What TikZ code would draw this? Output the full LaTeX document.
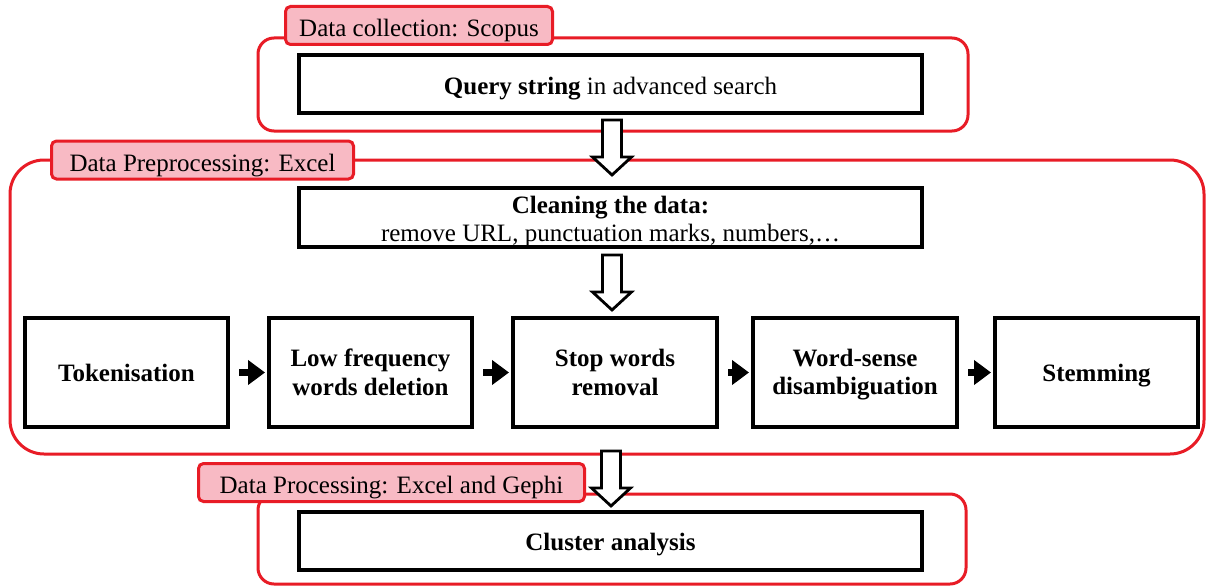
\documentclass[tikz,border=0pt]{standalone}
\usepackage{fontspec}
\setmainfont{Liberation Serif}
\usetikzlibrary{arrows.meta}
\definecolor{grpred}{RGB}{232,28,38}
\definecolor{lblpink}{RGB}{248,186,196}
\tikzset{
  grpbox/.style={draw=grpred, line width=3pt, rounded corners=#1, inner sep=0pt},
  lbl/.style={draw=grpred, line width=3pt, fill=lblpink, rounded corners=5pt, inner sep=0pt, minimum height=38pt, font=\fontsize{25}{29}\selectfont, text depth=0pt, text height=22pt},
  stepbox/.style={draw=black, line width=4pt, inner sep=0pt, align=center, font=\fontsize{25}{29}\selectfont},
  rowbox/.style={stepbox, font=\bfseries\fontsize{25}{29}\selectfont},
  hollow/.style={draw=black, line width=2.8pt, fill=white, line join=miter},
  sarrow/.style={line width=7.5pt, -{Triangle[length=17pt,width=24pt]}},
}
\begin{document}
\begin{tikzpicture}[x=1pt,y=-1pt]
\useasboundingbox[fill=white] (0,0) rectangle (1206,586);
% groups
\node[grpbox=16pt, minimum width=710pt, minimum height=93pt] (g1) at (613,84.5) {};
\node[grpbox=34pt, minimum width=1194pt, minimum height=294pt] (g2) at (607,307) {};
\node[grpbox=16pt, minimum width=708pt, minimum height=90pt] (g3) at (612,539) {};
% labels
\node[lbl, anchor=west, minimum width=267pt] (l1) at (284,25.5) {Data collection: Scopus};
\node[lbl, anchor=west, minimum width=302pt] (l2) at (50,160) {Data Preprocessing: Excel};
\node[lbl, anchor=west, minimum width=386pt] (l3) at (197,482.5) {Data Processing: Excel and Gephi};
% main boxes
\node[stepbox, minimum width=623pt, minimum height=58pt, text height=20pt, text depth=0pt] (query) at (610.5,84) {\textbf{Query string} in advanced search};
\node[stepbox, minimum width=623pt, minimum height=59pt, font=\fontsize{25}{28}\selectfont] (clean) at (610.5,217.5) {\raisebox{-10.5pt}[0pt][0pt]{\begin{tabular}{@{}c@{}}\textbf{Cleaning the data:}\\ remove URL, punctuation marks, numbers,\dots\end{tabular}}};
\node[stepbox, minimum width=623pt, minimum height=58pt, text height=19pt, text depth=0pt, font=\bfseries\fontsize{25}{29}\selectfont] (cluster) at (610.5,541) {Cluster analysis};
% row
\node[rowbox, minimum width=203pt, minimum height=109pt] (tok) at (126.5,372.5) {Tokenisation};
\node[rowbox, minimum width=203pt, minimum height=109pt] (low) at (370.5,372.5) {Low frequency\\words deletion};
\node[rowbox, minimum width=204pt, minimum height=109pt] (stop) at (615,372.5) {Stop words\\removal};
\node[rowbox, minimum width=204pt, minimum height=109pt, font=\bfseries\fontsize{25}{28}\selectfont] (wsd) at (855,372.5) {\raisebox{-9pt}[0pt][0pt]{\begin{tabular}{@{}c@{}}Word-sense\\ disambiguation\end{tabular}}};
\node[rowbox, minimum width=203pt, minimum height=109pt, text height=17pt, text depth=0pt] (stem) at (1096.5,372.5) {Stemming};
% small arrows
\draw[sarrow] ([xshift=9pt]tok.east) -- ([xshift=-2pt]low.west);
\draw[sarrow] ([xshift=9pt]low.east) -- ([xshift=-2pt]stop.west);
\draw[sarrow] ([xshift=9pt]stop.east) -- ([xshift=-2pt]wsd.west);
\draw[sarrow] ([xshift=9pt]wsd.east) -- ([xshift=-2pt]stem.west);
% hollow arrows
\coordinate (a1) at (612,120);
\coordinate (a2) at (612,255);
\coordinate (a3) at (611,451);
\foreach \c in {a1,a2,a3}{
  \draw[hollow] (\c) ++(-9.5,0) -- ++(19,0) -- ++(0,37) -- ++(10,0) -- ++(-19.5,18) -- ++(-19.5,-18) -- ++(10,0) -- cycle;
}
\end{tikzpicture}
\end{document}
